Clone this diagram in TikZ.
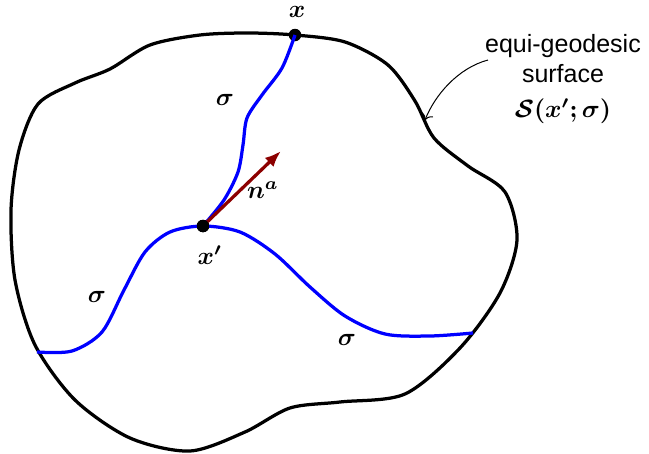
\documentclass[tikz,border=0pt]{standalone}
\usepackage{amsmath,amssymb,bm}
\usepackage{fontspec}
\newfontfamily\calloutfont{Liberation Sans}
\usetikzlibrary{arrows.meta}

\begin{document}
\begin{tikzpicture}[
    x=0.4pt, y=-0.4pt,
    bound/.style={line width=1.3pt, black},
    geod/.style={line width=1.3pt, blue},
    pt/.style={circle, fill=black, inner sep=0pt, minimum size=5pt},
    sym/.style={font=\normalsize},
    normal/.style={-{Latex[length=6.5pt, width=5pt]}, line width=1.3pt, red!55!black},
    callout/.style={->, thin}
  ]
    \useasboundingbox (0,0) rectangle (649,454);

    % Equi-geodesic surface
    \draw[bound] plot[smooth cycle] coordinates {
      (295,35) (345,42) (388,65) (415,101) (434,138) (468,166) (505,192)
      (517,240) (500,293) (460,348) (405,394) (340,402) (290,408)
      (245,432) (190,451) (130,438) (75,400) (35,345) (15,280)
      (11,210) (19,150) (38,104) (75,83) (110,69) (150,45)
      (200,35) (248,33)};

    % Points
    \node[pt] (x)  at (295,35)  {};
    \node[pt] (xp) at (203,226) {};
    \coordinate (lend)  at (37,352);
    \coordinate (rend)  at (473,333);
    \coordinate (nhead) at (281,151);

    % Geodesics
    \draw[geod] plot[smooth] coordinates {
      (xp) (224,200) (238,172) (243,145) (247,118) (262,95) (282,68) (x)};
    \draw[geod] plot[smooth] coordinates {
      (lend) (72,351) (102,332) (124,290) (145,252) (170,232) (xp)
      (240,232) (275,254) (310,287) (345,316) (385,334) (430,336) (rend)};

    % Normal vector
    \draw[normal] (xp.center) -- (nhead);
    \node[pt] at (xp) {};

    % Labels
    \node[sym] (lx)  at (297,12)  {$\bm{x}$};
    \node[sym] (lxp) at (210,255) {$\bm{x'}$};
    \node[sym] (na)  at (263,190) {$\bm{n^a}$};
    \node[sym] (s1)  at (225,100) {$\bm{\sigma}$};
    \node[sym] (s2)  at (97,297)  {$\bm{\sigma}$};
    \node[sym] (s3)  at (347,340) {$\bm{\sigma}$};

    % Callout
    \node[align=center, font=\calloutfont] (surf) at (563,79)
      {equi-geodesic\\surface\\[2pt]$\bm{\mathcal{S}(x';\sigma)}$};
    \coordinate (tail) at (488,60);
    \coordinate (tip)  at (425,120);
    \draw[callout] (tail) .. controls (458,68) and (435,95) .. (tip);
  \end{tikzpicture}
\end{document}
